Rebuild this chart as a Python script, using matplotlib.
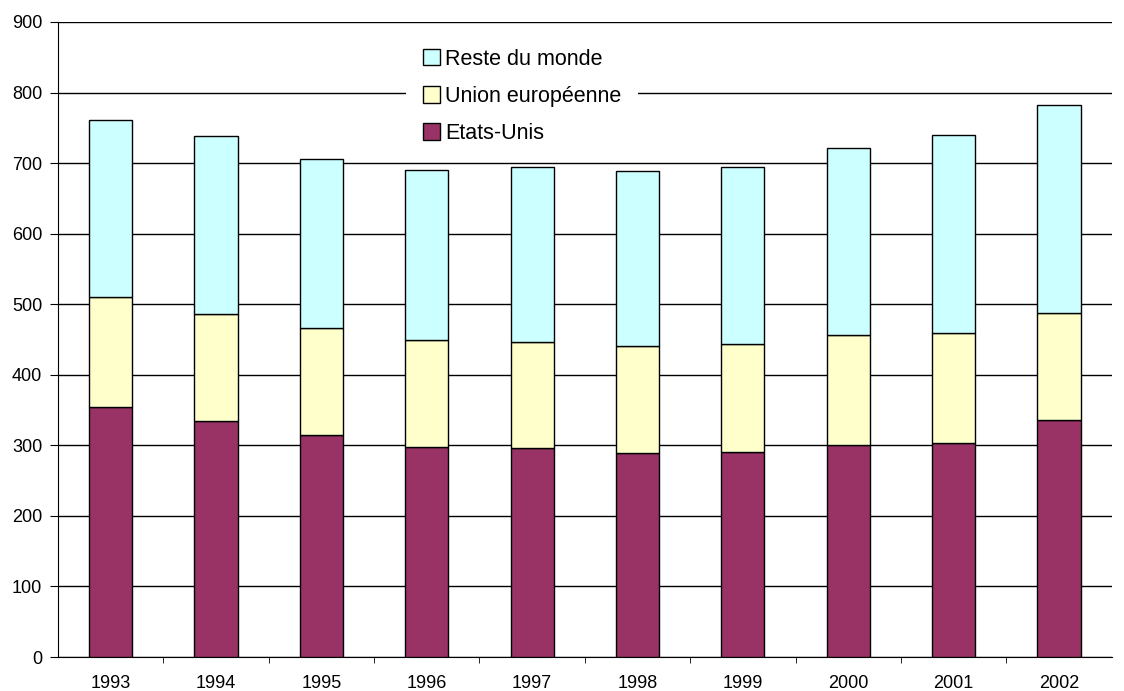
import numpy as np
import matplotlib.pyplot as plt

plt.rcParams['font.family'] = ['Liberation Sans', 'DejaVu Sans']

years = ["1993", "1994", "1995", "1996", "1997", "1998", "1999", "2000", "2001", "2002"]
etats_unis = [354, 334, 315, 298, 296, 289, 290, 301, 303, 336]
union_eu = [156, 152, 151, 151, 151, 152, 154, 155, 156, 152]
reste_monde = [251, 253, 240, 241, 248, 248, 251, 266, 281, 295]

x = np.arange(len(years))
w = 0.41

fig = plt.figure(figsize=(11.24, 6.91), dpi=100)
ax = fig.add_axes([0.0516, 0.0492, 0.9374, 0.9190])

us = np.array(etats_unis)
eu = np.array(union_eu)
rm = np.array(reste_monde)

b1 = ax.bar(x, us, w, color="#993366", edgecolor="black", linewidth=1, label="Etats-Unis", zorder=3)
b2 = ax.bar(x, eu, w, bottom=us, color="#FFFFCC", edgecolor="black", linewidth=1, label="Union européenne", zorder=3)
b3 = ax.bar(x, rm, w, bottom=us + eu, color="#CCFFFF", edgecolor="black", linewidth=1, label="Reste du monde", zorder=3)

ax.set_xlim(-0.5, len(years) - 0.5)
ax.set_ylim(0, 900)
ax.set_yticks(np.arange(0, 901, 100))
ax.yaxis.grid(True, color="black", linewidth=1)
ax.set_axisbelow(True)

ax.set_xticks(x)
ax.set_xticklabels(years)
ax.set_xticks(np.arange(0.5, len(years) - 0.5, 1), minor=True)
ax.tick_params(axis="x", which="major", length=0, labelsize=13, pad=13)
ax.tick_params(axis="x", which="minor", length=4.3, color="black")
ax.tick_params(axis="y", length=5.8, pad=5.5, labelsize=13, color="black")

for s in ["top", "right"]:
    ax.spines[s].set_visible(False)
for s in ["left", "bottom"]:
    ax.spines[s].set_color("black")

leg = ax.legend(handles=[b3, b2, b1], loc="center", bbox_to_anchor=(0.4405, 0.883),
                frameon=True, fontsize=15.5, handlelength=0.8, handleheight=0.8,
                handletextpad=0.2, labelspacing=0.75, borderpad=0.8,
                fancybox=False)
leg.get_frame().set_edgecolor("none")
leg.get_frame().set_facecolor("white")
leg.get_frame().set_alpha(1)
leg.set_zorder(4)

plt.savefig("out.png")
